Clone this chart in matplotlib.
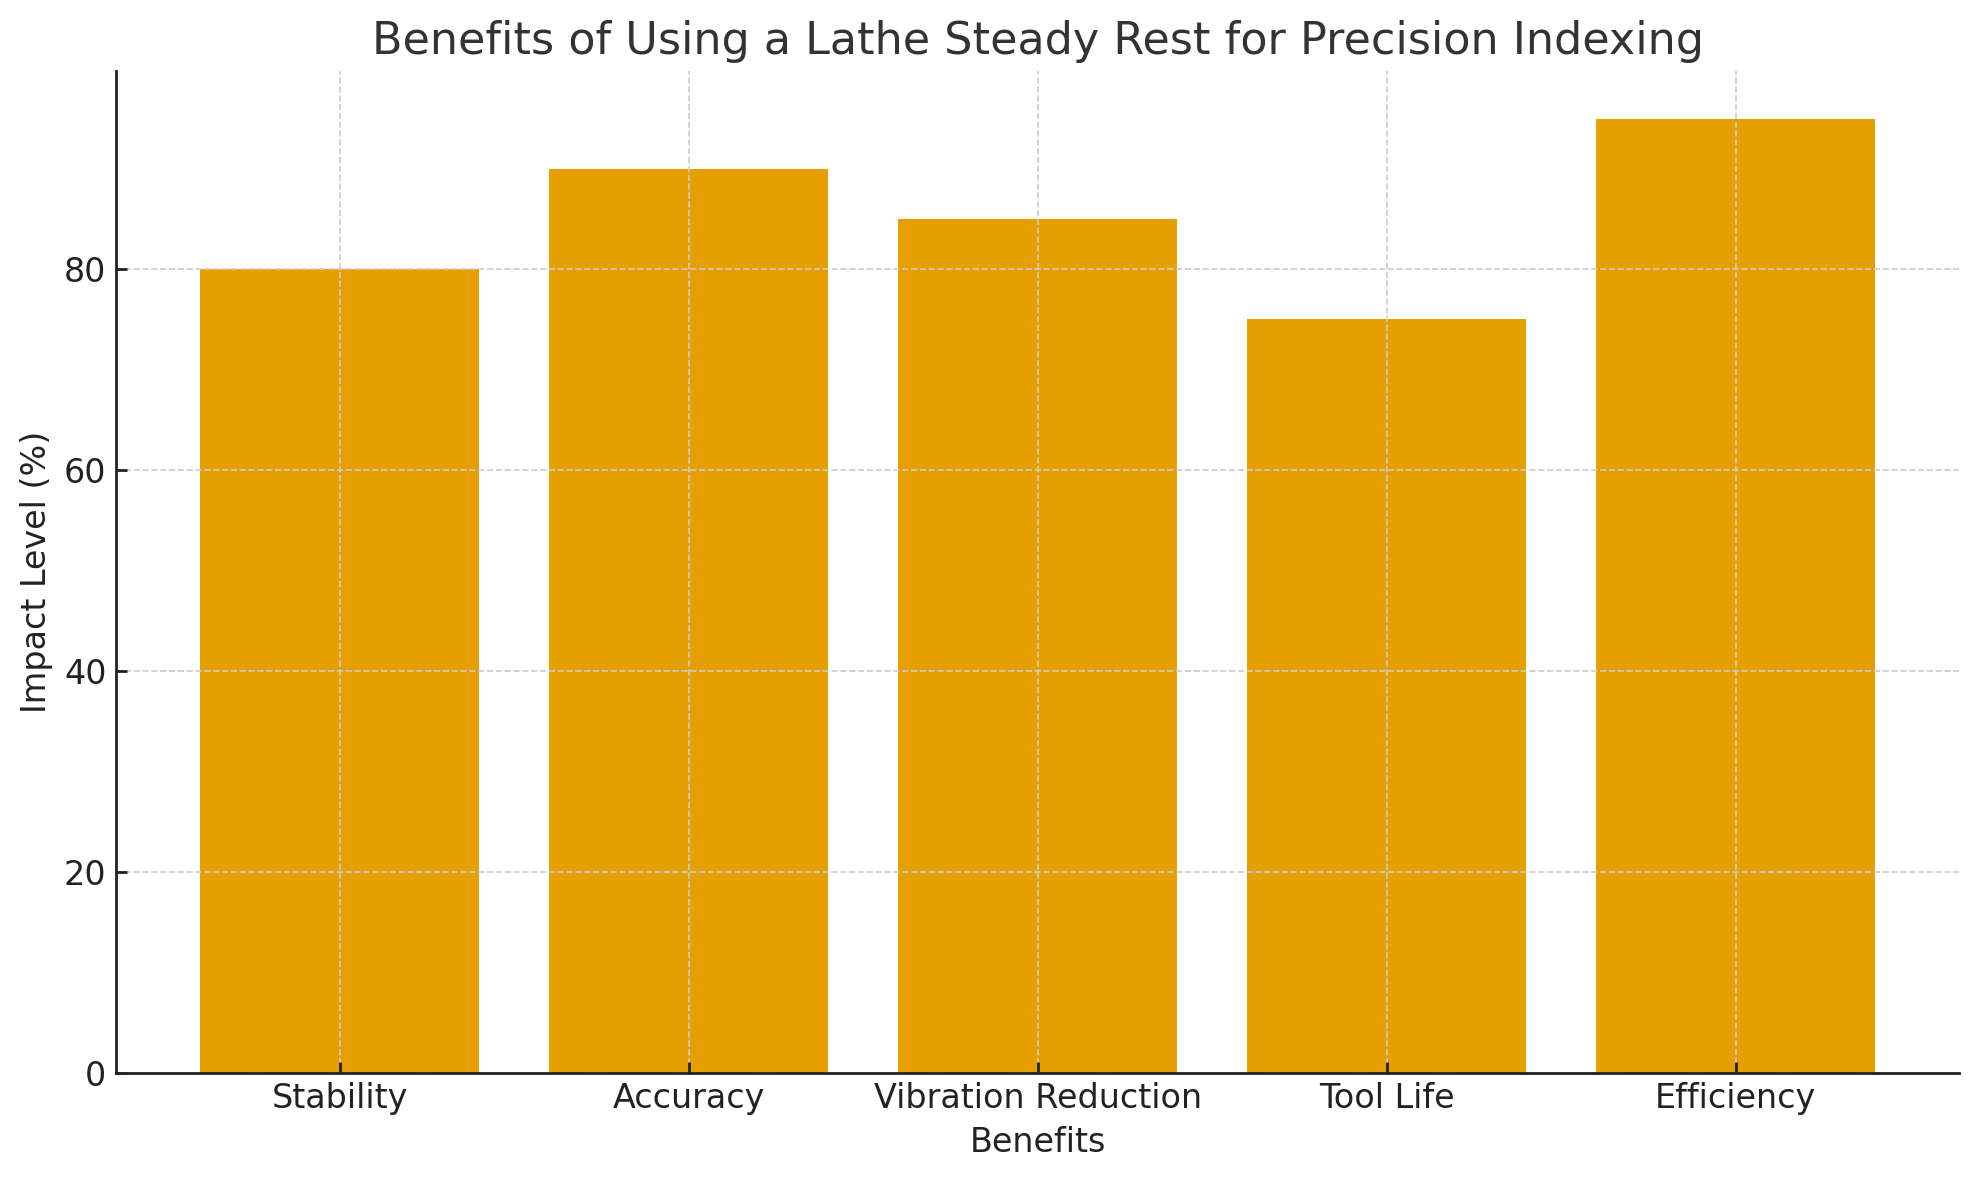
import matplotlib.pyplot as plt

benefits = ['Stability', 'Accuracy', 'Vibration Reduction', 'Tool Life', 'Efficiency']
impact = [80, 90, 85, 75, 95]

fig = plt.figure(figsize=(9.895, 5.9), dpi=200)
ax = fig.add_axes([0.0587, 0.091, 0.9313, 0.849])

ax.bar(benefits, impact, color='#E69F00', width=0.8)

ax.set_title('Benefits of Using a Lathe Steady Rest for Precision Indexing', fontsize=16, color='#333333')
ax.set_xlabel('Benefits', fontsize=12, color='#222222')
ax.set_ylabel('Impact Level (%)', fontsize=12, color='#222222')

ax.grid(True, linestyle='--', linewidth=0.6, color='#cccccc')
ax.tick_params(axis='both', direction='in', labelsize=12, colors='#222222', length=4, width=1)
for side in ['top', 'right']:
    ax.spines[side].set_visible(False)
for side in ['left', 'bottom']:
    ax.spines[side].set_color('#222222')
    ax.spines[side].set_linewidth(1.0)

fig.savefig('out.png', dpi=200)
